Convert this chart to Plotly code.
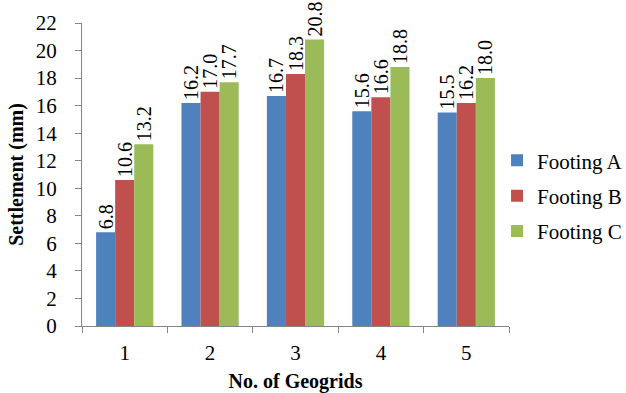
import plotly.graph_objects as go

categories = ["1", "2", "3", "4", "5"]
footing_a = [6.8, 16.2, 16.7, 15.6, 15.5]
footing_b = [10.6, 17.0, 18.3, 16.6, 16.2]
footing_c = [13.2, 17.7, 20.8, 18.8, 18.0]
series_names = ["Footing A", "Footing B", "Footing C"]
colors = ["#4F81BD", "#C0504D", "#9BBB59"]
y_ticks = list(range(0, 23, 2))

FONT = "Liberation Serif"

fig = go.Figure()
for name, vals, col in zip(series_names, [footing_a, footing_b, footing_c], colors):
    fig.add_trace(go.Bar(
        x=categories, y=vals, name=name, legendgroup=name,
        marker=dict(color=col, line=dict(width=0)),
        texttemplate="%{y:.1f}", textposition="outside", textangle=-90,
        constraintext="none", cliponaxis=False,
        textfont=dict(family=FONT, size=20, color="black"),
    ))

fig.update_layout(
    width=626, height=393,
    margin=dict(l=82, r=117, t=23, b=67, autoexpand=False),
    paper_bgcolor="white", plot_bgcolor="white",
    barmode="group", bargap=0.33, bargroupgap=0,
    font=dict(family=FONT, size=21, color="black"),
    showlegend=True,
    legend=dict(x=0.972, xanchor="left", y=0.43, yanchor="middle",
                font=dict(family=FONT, size=21, color="black"),
                tracegroupgap=5, bgcolor="rgba(0,0,0,0)"),
    xaxis=dict(
        title=dict(text="<b>No. of Geogrids</b>", font=dict(family=FONT, size=20), standoff=9),
        showline=True, linecolor="#868686", linewidth=1,
        ticks="outside", tickson="boundaries", ticklen=6, tickcolor="#868686",
        ticklabelstandoff=8,
        tickfont=dict(family=FONT, size=21), showgrid=False,
    ),
    yaxis=dict(
        title=dict(text="<b>Settlement (mm)</b>", font=dict(family=FONT, size=20), standoff=6),
        range=[0, 22], tickvals=y_ticks,
        showline=True, linecolor="#868686", linewidth=1,
        ticks="outside", ticklen=6, tickcolor="#868686",
        ticklabelstandoff=14,
        tickfont=dict(family=FONT, size=21), showgrid=False, zeroline=False,
    ),
)

fig.write_html("out.html")
